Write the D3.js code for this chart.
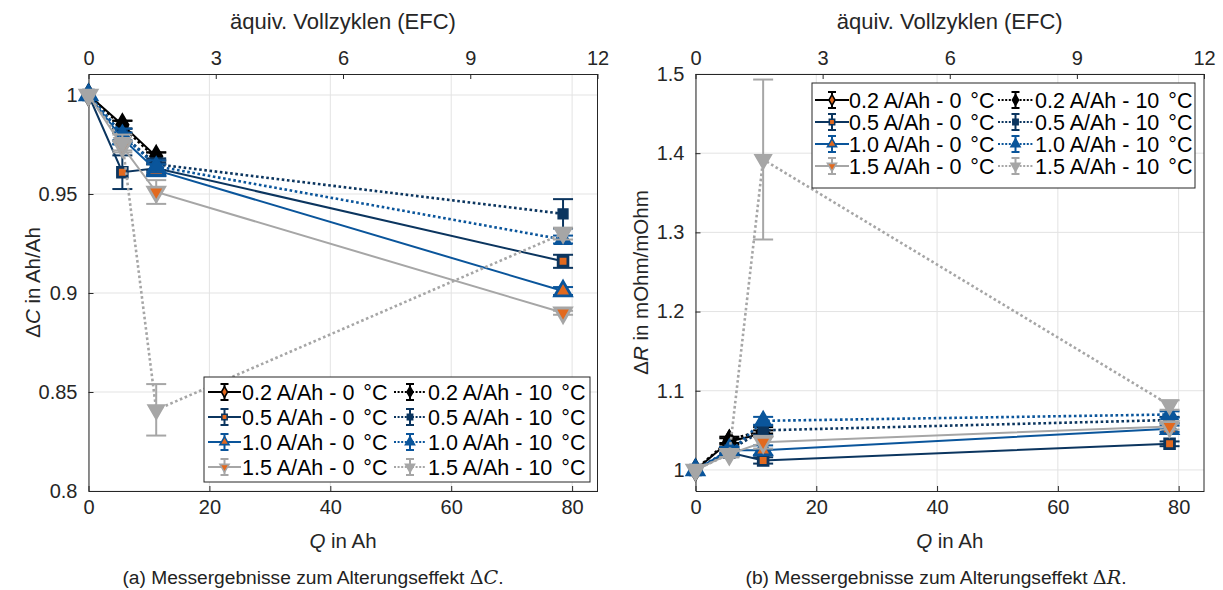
<!DOCTYPE html>
<html>
<head>
<meta charset="utf-8">
<script src="https://cdn.jsdelivr.net/npm/d3@7"></script>
<style>
	body { margin: 0; background: #fff; }
	svg { font-family: "Liberation Sans", Arial, sans-serif; }
	.grid line { stroke: #e3e3e3; stroke-width: 1; }
</style>
</head>
<body>
<div id="root"></div>
<script>
// series
const seriesLabels = ["0.2 A/Ah - 0 °C", "0.2 A/Ah - 10 °C", "0.5 A/Ah - 0 °C", "0.5 A/Ah - 10 °C",
	"1.0 A/Ah - 0 °C", "1.0 A/Ah - 10 °C", "1.5 A/Ah - 0 °C", "1.5 A/Ah - 10 °C"];
const seriesColors = ["#000000", "#000000", "#0b355f", "#0b355f", "#0a559b", "#0a559b", "#a6a6a6", "#a6a6a6"];
const seriesSymbols = ["diamond", "diamond", "square", "square", "up", "up", "down", "down"];
const seriesDotted = [false, true, false, true, false, true, false, true];

// charge throughput per measurement (Ah)
const qShort = [0, 5.6, 11.2];
const qLong = [0, 5.6, 11.2, 78.5];
const seriesQ = [qShort, qShort, qLong, qLong, qLong, qLong, qLong, qLong];

// capacity ΔC (Ah/Ah)
const dCMean = [
	[1, 0.985, 0.969],
	[1, 0.984, 0.968],
	[1, 0.961, 0.963, 0.916],
	[1, 0.980, 0.965, 0.940],
	[1, 0.978, 0.962, 0.901],
	[1, 0.980, 0.964, 0.927],
	[1, 0.974, 0.951, 0.890],
	[1, 0.976, 0.841, 0.930]
];
const dCErr = [
	[0, 0.002, 0.002],
	[0, 0.003, 0.003],
	[0, 0.0085, 0.003, 0.0033],
	[0, 0.003, 0.003, 0.0074],
	[0, 0.003, 0.003, 0.002],
	[0, 0.003, 0.003, 0.002],
	[0, 0.003, 0.006, 0.001],
	[0, 0.004, 0.013, 0.003]
];

// resistance ΔR (mOhm/mOhm)
const dRMean = [
	[1, 1.036, 1.046],
	[1, 1.038, 1.050],
	[1, 1.022, 1.012, 1.033],
	[1, 1.025, 1.050, 1.063],
	[1, 1.025, 1.025, 1.052],
	[1, 1.022, 1.062, 1.070],
	[1, 1.020, 1.035, 1.055],
	[1, 1.020, 1.392, 1.082]
];
const dRErr = [
	[0, 0.004, 0.004],
	[0, 0.004, 0.004],
	[0, 0.004, 0.004, 0.003],
	[0, 0.004, 0.006, 0.004],
	[0, 0.004, 0.006, 0.004],
	[0, 0.004, 0.005, 0.004],
	[0, 0.004, 0.008, 0.004],
	[0, 0.004, 0.101, 0.006]
];

const qMax = 84.2;
const efcTicks = [0, 3, 6, 9, 12];
const qTicks = [0, 20, 40, 60, 80];
const dCTicks = [0.8, 0.85, 0.9, 0.95, 1];
const dRTicks = [1, 1.1, 1.2, 1.3, 1.4, 1.5];
const markerOrange = "#e2691e";
const axisColor = "#262626";

const svg = d3.select("#root").append("svg").attr("width", 1223).attr("height", 590);

const symbolPath = (kind, size) => {
	const types = { diamond: d3.symbolDiamond, square: d3.symbolSquare, up: d3.symbolTriangle, down: d3.symbolTriangle };
	return d3.symbol().type(types[kind]).size(size)();
};

const drawMarker = (g, i, x, y, scale) => {
	const hollow = !seriesDotted[i];
	const sizes = { diamond: 110, square: 95, up: 120, down: 120 };
	g.append("path")
		.attr("d", symbolPath(seriesSymbols[i], sizes[seriesSymbols[i]] * scale * scale))
		.attr("transform", `translate(${x},${y})${seriesSymbols[i] === "down" ? " rotate(180)" : ""}`)
		.attr("fill", hollow ? markerOrange : seriesColors[i])
		.attr("stroke", seriesColors[i])
		.attr("stroke-width", hollow ? 2.8 * scale : 1.5);
};

const drawPanel = (opts) => {
	const { left, right, top, bottom, yDomain, yTicks, means, errs, yFmt } = opts;
	const x = d3.scaleLinear().domain([0, qMax]).range([left, right]);
	const xTop = d3.scaleLinear().domain([0, 12]).range([left, right]);
	const y = d3.scaleLinear().domain(yDomain).range([bottom, top]);

	const g = svg.append("g");

	// grid
	const grid = g.append("g").attr("class", "grid");
	grid.selectAll(".gx").data(qTicks).enter().append("line")
		.attr("x1", d => x(d)).attr("x2", d => x(d)).attr("y1", top).attr("y2", bottom);
	grid.selectAll(".gy").data(yTicks).enter().append("line")
		.attr("x1", left).attr("x2", right).attr("y1", d => y(d)).attr("y2", d => y(d));

	// axes
	const ax = (sel) => sel.call(s => s.select(".domain").attr("stroke", axisColor))
		.call(s => s.selectAll(".tick line").attr("stroke", axisColor));
	g.append("g").attr("transform", `translate(0,${bottom})`)
		.call(d3.axisBottom(x).tickValues(qTicks).tickSizeInner(-5).tickSizeOuter(0).tickPadding(9))
		.call(ax);
	g.append("g").attr("transform", `translate(0,${top})`)
		.call(d3.axisTop(xTop).tickValues(efcTicks).tickSizeInner(-5).tickSizeOuter(0).tickPadding(9))
		.call(ax);
	g.append("g").attr("transform", `translate(${left},0)`)
		.call(d3.axisLeft(y).tickValues(yTicks).tickFormat(yFmt).tickSizeInner(-5).tickSizeOuter(0).tickPadding(11))
		.call(ax);
	g.append("line").attr("x1", right).attr("x2", right).attr("y1", top).attr("y2", bottom).attr("stroke", axisColor);
	g.selectAll(".tick text").attr("font-size", 20).attr("fill", axisColor).attr("font-family", "Liberation Sans, Arial, sans-serif");

	// series
	const line = d3.line().x(d => x(d[0])).y(d => y(d[1]));
	seriesLabels.forEach((label, i) => {
		const pts = seriesQ[i].map((q, k) => [q, means[i][k], errs[i][k]]);
		const sg = g.append("g");
		sg.append("path").datum(pts)
			.attr("d", line)
			.attr("fill", "none")
			.attr("stroke", seriesColors[i])
			.attr("stroke-width", seriesDotted[i] ? 2.6 : 2)
			.attr("stroke-dasharray", seriesDotted[i] ? "2.6,2.6" : null);
		pts.forEach(p => {
			if (p[2] > 0) {
				const eb = sg.append("g").attr("stroke", seriesColors[i]).attr("stroke-width", 2);
				eb.append("line").attr("x1", x(p[0])).attr("x2", x(p[0])).attr("y1", y(p[1] - p[2])).attr("y2", y(p[1] + p[2]));
				[p[1] - p[2], p[1] + p[2]].forEach(v => {
					eb.append("line").attr("x1", x(p[0]) - 10).attr("x2", x(p[0]) + 10).attr("y1", y(v)).attr("y2", y(v));
				});
			}
			drawMarker(sg, i, x(p[0]), y(p[1]), 1);
		});
	});

	// labels
	g.append("text").attr("x", (left + right) / 2).attr("y", 29).attr("text-anchor", "middle")
		.attr("font-size", 22).attr("fill", axisColor).text("äquiv. Vollzyklen (EFC)");
	const xl = g.append("text").attr("x", (left + right) / 2).attr("y", 548).attr("text-anchor", "middle")
		.attr("font-size", 20.5).attr("fill", axisColor);
	xl.append("tspan").attr("font-style", "italic").text("Q");
	xl.append("tspan").text(" in Ah");
	const yl = g.append("text").attr("transform", `translate(${opts.yLabelX},${(top + bottom) / 2}) rotate(-90)`)
		.attr("text-anchor", "middle").attr("font-size", 20.5).attr("fill", axisColor);
	yl.append("tspan").text("Δ");
	yl.append("tspan").attr("font-style", "italic").text(opts.yVar);
	yl.append("tspan").text(" in " + opts.yUnit);

	return g;
};

const drawLegend = (opts) => {
	const { x0, y0, w, h, rowY, col1, col2, text1, text2 } = opts;
	const g = svg.append("g");
	g.append("rect").attr("x", x0).attr("y", y0).attr("width", w).attr("height", h)
		.attr("fill", "#fff").attr("stroke", axisColor).attr("stroke-width", 1);
	seriesLabels.forEach((label, i) => {
		const row = Math.floor(i / 2);
		const col = i % 2;
		const lx = col === 0 ? col1 : col2;
		const cy = rowY[row];
		const cx = (lx[0] + lx[1]) / 2;
		g.append("line").attr("x1", lx[0]).attr("x2", lx[1]).attr("y1", cy).attr("y2", cy)
			.attr("stroke", seriesColors[i]).attr("stroke-width", seriesDotted[i] ? 2.2 : 2)
			.attr("stroke-dasharray", seriesDotted[i] ? "2,1.6" : null);
		const eb = g.append("g").attr("stroke", seriesColors[i]).attr("stroke-width", 2);
		eb.append("line").attr("x1", cx).attr("x2", cx).attr("y1", cy - 8).attr("y2", cy + 8);
		eb.append("line").attr("x1", cx - 4).attr("x2", cx + 4).attr("y1", cy - 8).attr("y2", cy - 8);
		eb.append("line").attr("x1", cx - 4).attr("x2", cx + 4).attr("y1", cy + 8).attr("y2", cy + 8);
		drawMarker(g, i, cx, cy, 0.55);
		const parts = label.split(" °C");
		const t = g.append("text").attr("x", col === 0 ? text1 : text2).attr("y", cy + 7.5)
			.attr("font-size", 21.5).attr("fill", "#000");
		t.append("tspan").text(parts[0] + " ");
		t.append("tspan").attr("dx", 3).text("°C");
	});
};

drawPanel({
	left: 88.5, right: 597.5, top: 74, bottom: 491,
	yDomain: [0.8, 1.0106], yTicks: dCTicks, means: dCMean, errs: dCErr,
	yFmt: d3.format("~g"), yLabelX: 40, yVar: "C", yUnit: "Ah/Ah"
});
drawPanel({
	left: 695.5, right: 1204, top: 74, bottom: 491,
	yDomain: [0.9734, 1.5], yTicks: dRTicks, means: dRMean, errs: dRErr,
	yFmt: d3.format("~g"), yLabelX: 648, yVar: "R", yUnit: "mOhm/mOhm"
});

drawLegend({
	x0: 204, y0: 377, w: 386, h: 105, rowY: [392, 417, 442, 467],
	col1: [208, 241], col2: [394, 426], text1: 242, text2: 428
});
drawLegend({
	x0: 812, y0: 83, w: 383, h: 105, rowY: [100, 122, 144, 166],
	col1: [815, 849], col2: [998, 1033], text1: 849, text2: 1035
});

// captions
const caption = (cx, prefix, sym) => {
	const t = svg.append("text").attr("x", cx).attr("y", 584).attr("text-anchor", "middle")
		.attr("font-size", 19.2).attr("fill", "#222");
	t.append("tspan").text(prefix);
	t.append("tspan").attr("font-family", "DejaVu Serif, serif").text("Δ");
	t.append("tspan").attr("font-family", "DejaVu Serif, serif").attr("font-style", "italic").text(sym);
	t.append("tspan").text(".");
};
caption(313, "(a) Messergebnisse zum Alterungseffekt ", "C");
caption(936, "(b) Messergebnisse zum Alterungseffekt ", "R");
</script>
</body>
</html>
